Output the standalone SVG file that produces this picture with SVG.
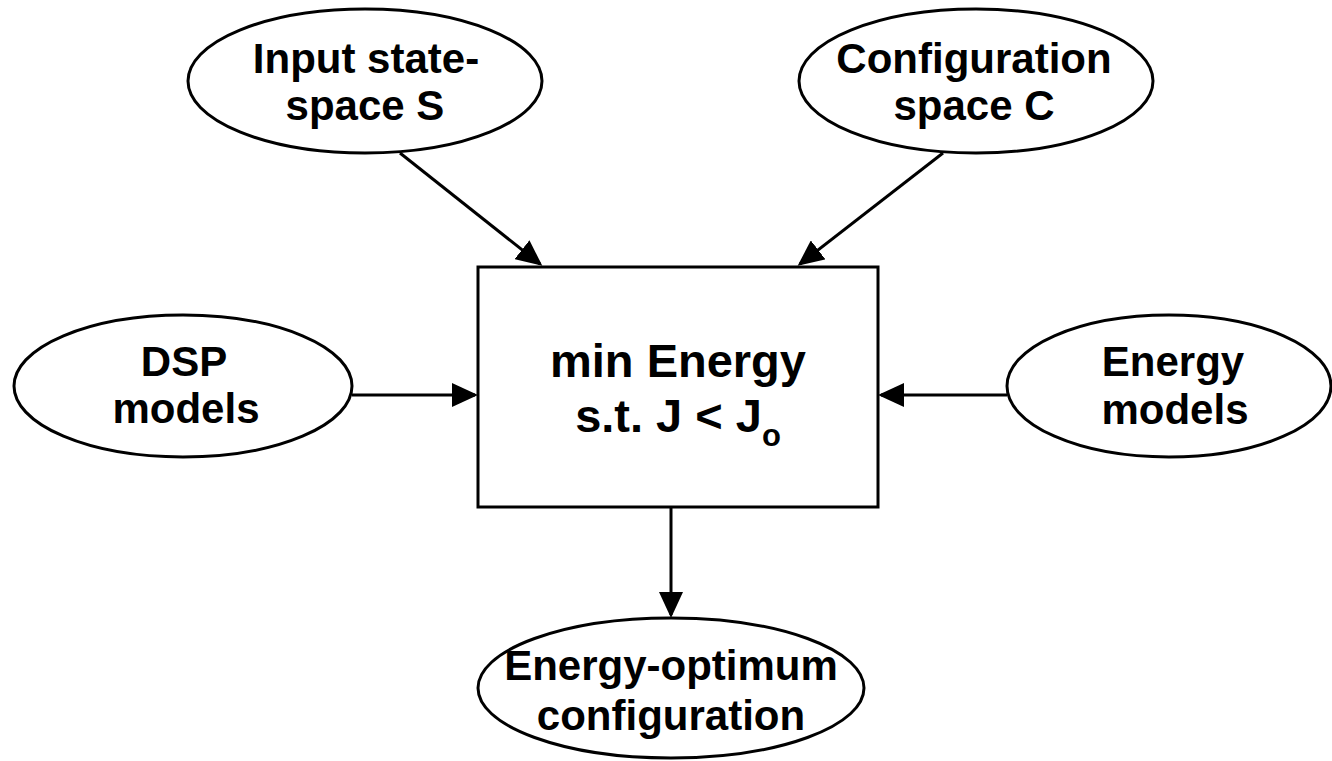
<svg xmlns="http://www.w3.org/2000/svg" width="1332" height="761" viewBox="0 0 1332 761">
<style>
.node { fill: #ffffff; stroke: #000000; stroke-width: 3; }
.lbl { font-family: "Liberation Sans", Arial, sans-serif; font-weight: bold; font-size: 42px; fill: #000000; text-anchor: middle; }
.big { font-size: 47px; }
.edge { stroke: #000000; stroke-width: 3; fill: none; marker-end: url(#arrow); }
</style>
<defs>
<marker id="arrow" viewBox="0 0 26 24" refX="23" refY="12" markerWidth="26" markerHeight="24" markerUnits="userSpaceOnUse" orient="auto">
<path d="M0,0 L26,12 L0,24 Z" fill="#000000"/>
</marker>
</defs>
<rect width="1332" height="761" fill="#ffffff"/>
<g id="connectors">
<line class="edge" x1="400" y1="153" x2="540" y2="264"/>
<line class="edge" x1="943" y1="153" x2="800" y2="264"/>
<line class="edge" x1="352" y1="395" x2="475" y2="395"/>
<line class="edge" x1="1007" y1="395" x2="881" y2="395"/>
<line class="edge" x1="671" y1="507" x2="671" y2="615"/>
</g>
<g id="input-state-space">
<ellipse class="node" cx="365" cy="81" rx="177" ry="72"/>
<text class="lbl" x="366" y="73">Input state-</text>
<text class="lbl" x="365" y="120">space S</text>
</g>
<g id="configuration-space">
<ellipse class="node" cx="976" cy="81" rx="177" ry="72"/>
<text class="lbl" x="974" y="73">Configuration</text>
<text class="lbl" x="974" y="120">space C</text>
</g>
<g id="dsp-models">
<ellipse class="node" cx="183" cy="386" rx="169" ry="71"/>
<text class="lbl" x="184" y="376">DSP</text>
<text class="lbl" x="186" y="423">models</text>
</g>
<g id="energy-models">
<ellipse class="node" cx="1169" cy="386" rx="162" ry="71"/>
<text class="lbl" x="1173" y="376">Energy</text>
<text class="lbl" x="1175" y="424">models</text>
</g>
<g id="optimizer">
<rect class="node" x="478" y="267" width="400" height="240"/>
<text class="lbl big" x="678" y="377">min Energy</text>
<text class="lbl big" x="678" y="432">s.t. J &lt; J<tspan font-size="31" dy="14">o</tspan></text>
</g>
<g id="energy-optimum">
<ellipse class="node" cx="671" cy="688" rx="193" ry="70"/>
<text class="lbl" x="671" y="680">Energy-optimum</text>
<text class="lbl" x="671" y="730">configuration</text>
</g>
</svg>
